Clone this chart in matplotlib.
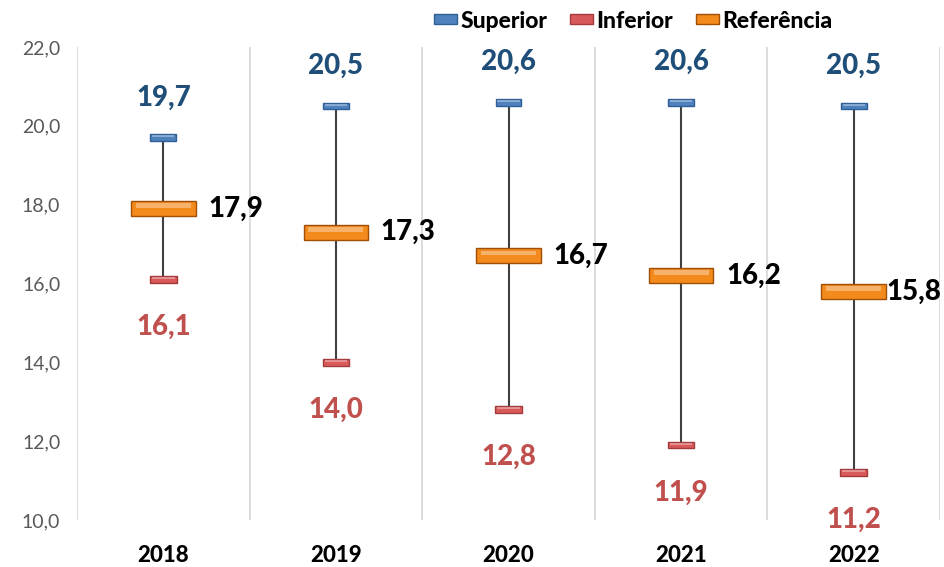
import matplotlib.pyplot as plt
import matplotlib.patches as mpatches
import numpy as np

plt.rcParams['font.family'] = ['Lato', 'DejaVu Sans']

anos = ["2018", "2019", "2020", "2021", "2022"]
superior = [19.7, 20.5, 20.6, 20.6, 20.5]
inferior = [16.1, 14.0, 12.8, 11.9, 11.2]
referencia = [17.9, 17.3, 16.7, 16.2, 15.8]

azul = "#4F81BD"
vermelho = "#D9595A"
laranja = "#F28A1C"

def fmt(v):
    return f"{v:.1f}".replace(".", ",")

fig = plt.figure(figsize=(9.44, 5.67), dpi=100)
ax = fig.add_axes([77/944, 1 - 520/567, 863/944, 473/567])

x = np.arange(len(anos))

# linhas verticais entre categorias
for b in np.arange(-0.5, len(anos) + 0.5, 1):
    ax.axvline(b, color="#D9D9D9", lw=1.3, zorder=0)

# linha de max-min
ax.vlines(x, inferior, superior, color="#404040", lw=1.5, zorder=1)

def barra(xc, y, w, h, cor, borda):
    ax.bar(xc, h, width=w, bottom=y - h / 2, color=cor, edgecolor=borda,
           lw=1.0, zorder=3)
    # brilho no topo para imitar o bisel
    ax.bar(xc, h * 0.3, width=w * 0.85, bottom=y + h * 0.05, color="white",
           alpha=0.35, lw=0, zorder=4)

rot = dict(fontsize=20, fontweight="black")
for i in range(len(anos)):
    barra(x[i], superior[i], 0.15, 0.17, azul, "#2F5F97")
    barra(x[i], inferior[i], 0.155, 0.17, vermelho, "#A23B3B")
    barra(x[i], referencia[i], 0.375, 0.38, laranja, "#A04E08")

    ax.annotate(fmt(superior[i]), (x[i], superior[i]), xytext=(0, 29),
                textcoords="offset points", ha="center", va="center",
                color="#1F4E79", **rot)
    ax.annotate(fmt(inferior[i]), (x[i], inferior[i]), xytext=(0, -34),
                textcoords="offset points", ha="center", va="center",
                color="#C0504D", **rot)
    # o ultimo rotulo encosta na barra para caber na figura
    dx = 0.26 if i < len(anos) - 1 else 0.19
    ax.annotate(fmt(referencia[i]), (x[i] + dx, referencia[i]), xytext=(0, 0),
                textcoords="offset points", ha="left", va="center",
                color="black", **rot)

ax.set_xlim(-0.5, len(anos) - 0.5)
ax.set_ylim(10, 22)
ax.set_yticks(np.arange(10, 22.1, 2))
ax.set_yticklabels([fmt(v) for v in np.arange(10, 22.1, 2)], fontsize=14,
                   color="#595959")
ax.set_xticks(x)
ax.set_xticklabels(anos, fontsize=16, fontweight="black")
ax.tick_params(axis="both", length=0)
ax.tick_params(axis="x", pad=18)
ax.tick_params(axis="y", pad=12)
for s in ax.spines.values():
    s.set_visible(False)

handles = [
    mpatches.Patch(facecolor=azul, edgecolor="#2F5F97", label="Superior"),
    mpatches.Patch(facecolor=vermelho, edgecolor="#A23B3B", label="Inferior"),
    mpatches.Patch(facecolor=laranja, edgecolor="#A04E08", label="Referência"),
]
leg = fig.legend(handles=handles, loc="center", bbox_to_anchor=(633/944, 1 - 21/567),
                 ncol=3, frameon=False, handlelength=1.0, handleheight=0.3,
                 handletextpad=0.15, columnspacing=1.0,
                 prop={"weight": "black", "size": 16.5})

fig.savefig("out.png", dpi=100)
